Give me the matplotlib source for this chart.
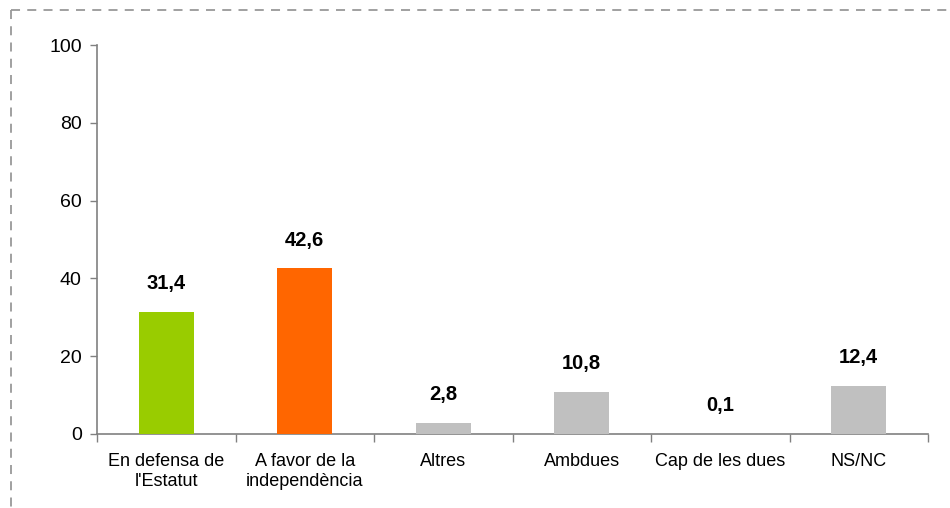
import matplotlib
matplotlib.use("Agg")
import matplotlib.pyplot as plt
from matplotlib.lines import Line2D

categories = ["En defensa de\nl'Estatut", "A favor de la\nindependència", "Altres",
              "Ambdues", "Cap de les dues", "NS/NC"]
values = [31.4, 42.6, 2.8, 10.8, 0.1, 12.4]
bar_colors = ["#99CC00", "#FF6600", "#C0C0C0", "#C0C0C0", "#FFFFFF", "#C0C0C0"]
yticks = [0, 20, 40, 60, 80, 100]

plt.rcParams['font.family'] = ['Liberation Sans', 'DejaVu Sans']

fig = plt.figure(figsize=(9.5, 5.08), dpi=100)
ax = fig.add_axes([97/950, 1-434/508, (928-97)/950, (434-45)/508])

x = list(range(len(categories)))
bars = ax.bar(x, values, width=0.4, color=bar_colors, zorder=3)
for b in bars:
    b.set_clip_on(False)

for xi, v in zip(x, values):
    ax.annotate(f"{v:.1f}".replace(".", ","), (xi, v), xytext=(0, 13.5),
                textcoords="offset points", ha="center", va="bottom",
                fontsize=14.5, fontweight="bold")

ax.set_xlim(-0.5, len(categories) - 0.5)
ax.set_ylim(0, 100)
ax.set_yticks(yticks)
ax.set_yticklabels([str(t) for t in yticks])
ax.set_xticks([i - 0.5 for i in range(len(categories) + 1)])
ax.set_xticklabels([])
ax.set_xticks(x, minor=True)
ax.set_xticklabels(categories, minor=True)
ax.tick_params(axis="x", which="minor", length=0, pad=14, labelsize=13)
ax.tick_params(axis="x", which="major", length=6, color="#808080", width=1)
ax.tick_params(axis="y", length=5, color="#808080", width=1, labelsize=14, pad=6)

for s in ["top", "right"]:
    ax.spines[s].set_visible(False)
for s in ["left", "bottom"]:
    ax.spines[s].set_color("#808080")
    ax.spines[s].set_linewidth(1.2)
    ax.spines[s].set_zorder(2)

# dashed frame (top and left visible)
fig.add_artist(Line2D([11/950, 1.0], [1-10/508, 1-10/508], transform=fig.transFigure,
                      color="#999999", linewidth=1.3, linestyle=(0, (5, 4))))
fig.add_artist(Line2D([11/950, 11/950], [1-10/508, 0.0], transform=fig.transFigure,
                      color="#999999", linewidth=1.3, linestyle=(0, (5, 4))))

fig.savefig("out.png", dpi=100)
